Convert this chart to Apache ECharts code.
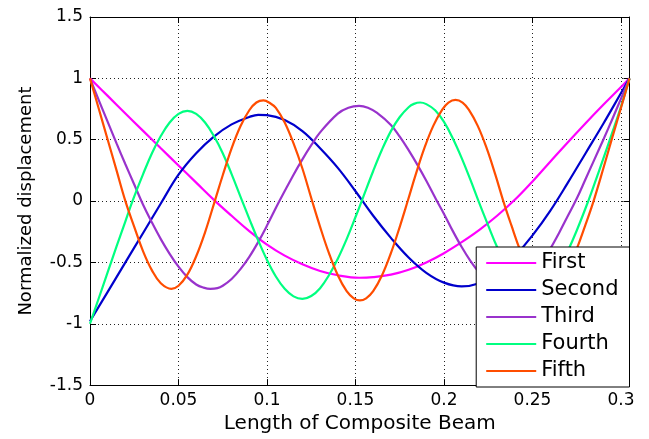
<!DOCTYPE html>
<html>
<head>
<meta charset="utf-8">
<script src="https://cdn.jsdelivr.net/npm/echarts@6/dist/echarts.min.js"></script>
<style>
  html, body { margin: 0; padding: 0; background: #ffffff; }
  #chart { width: 649px; height: 439px; }
</style>
</head>
<body>
<div id="chart"></div>
<script>
// Mode shapes of the composite beam, normalized displacement along its length (m)
const modeNames = ['First', 'Second', 'Third', 'Fourth', 'Fifth'];

const firstX = [0, 0.01, 0.02, 0.03, 0.04, 0.05, 0.06, 0.07, 0.08, 0.09, 0.10, 0.11, 0.12, 0.13, 0.14, 0.152,
  0.16, 0.17, 0.18, 0.19, 0.20, 0.21, 0.22, 0.23, 0.24, 0.25, 0.26, 0.27, 0.28, 0.29, 0.30, 0.3048];
const firstY = [1.0, 0.857, 0.714, 0.572, 0.43, 0.29, 0.15, 0.01, -0.12, -0.245, -0.355, -0.445, -0.515, -0.57, -0.605, -0.625,
  -0.62, -0.60, -0.56, -0.50, -0.425, -0.335, -0.235, -0.12, 0.01, 0.16, 0.32, 0.48, 0.635, 0.785, 0.93, 1.0];

const secondX = [0, 0.01, 0.02, 0.03, 0.04, 0.05, 0.06, 0.07, 0.08, 0.09, 0.095, 0.10, 0.11, 0.12, 0.13, 0.14, 0.15,
  0.16, 0.17, 0.18, 0.19, 0.20, 0.21, 0.22, 0.23, 0.24, 0.25, 0.26, 0.27, 0.28, 0.29, 0.30, 0.3048];
const secondY = [-0.98, -0.74, -0.50, -0.26, -0.02, 0.215, 0.39, 0.525, 0.625, 0.685, 0.703, 0.70, 0.66, 0.57, 0.43, 0.27, 0.08,
  -0.12, -0.30, -0.46, -0.585, -0.665, -0.695, -0.67, -0.59, -0.45, -0.28, -0.08, 0.15, 0.39, 0.63, 0.88, 1.0];

const thirdX = [0, 0.005, 0.01, 0.015, 0.02, 0.025, 0.03, 0.035, 0.04, 0.045, 0.05, 0.055, 0.06, 0.064, 0.068, 0.072,
  0.075, 0.08, 0.085, 0.09, 0.095, 0.10, 0.107, 0.115, 0.12, 0.125, 0.13, 0.14, 0.146, 0.152, 0.157, 0.162, 0.17,
  0.175, 0.18, 0.185, 0.19, 0.196, 0.20, 0.205, 0.21, 0.215, 0.22, 0.225, 0.23, 0.236, 0.241, 0.245, 0.25,
  0.255, 0.26, 0.265, 0.27, 0.275, 0.28, 0.285, 0.29, 0.295, 0.30, 0.3048];
const thirdY = [1.0, 0.82, 0.645, 0.47, 0.30, 0.135, -0.03, -0.175, -0.31, -0.43, -0.535, -0.62, -0.68, -0.705, -0.716, -0.71,
  -0.69, -0.635, -0.555, -0.455, -0.335, -0.20, 0.0, 0.215, 0.34, 0.455, 0.56, 0.713, 0.761, 0.776, 0.761, 0.72, 0.62,
  0.525, 0.415, 0.295, 0.165, 0.0, -0.105, -0.245, -0.375, -0.49, -0.585, -0.655, -0.70, -0.72, -0.70, -0.67, -0.60,
  -0.505, -0.39, -0.26, -0.12, 0.02, 0.18, 0.34, 0.50, 0.665, 0.835, 1.0];

const fourthX = [0, 0.005, 0.01, 0.015, 0.02, 0.024, 0.03, 0.035, 0.04, 0.045, 0.05, 0.055, 0.06, 0.065, 0.07, 0.075,
  0.08, 0.086, 0.09, 0.095, 0.10, 0.105, 0.11, 0.115, 0.12, 0.125, 0.13, 0.135, 0.14, 0.145, 0.15, 0.1535, 0.16,
  0.165, 0.17, 0.175, 0.18, 0.183, 0.1865, 0.19, 0.195, 0.20, 0.205, 0.21, 0.215, 0.2195, 0.225, 0.23, 0.235,
  0.24, 0.245, 0.2505, 0.255, 0.26, 0.265, 0.27, 0.275, 0.2815, 0.285, 0.29, 0.295, 0.30, 0.3048];
const fourthY = [-1.0, -0.79, -0.58, -0.37, -0.165, 0.0, 0.22, 0.39, 0.53, 0.64, 0.71, 0.735, 0.71, 0.64, 0.53, 0.39,
  0.22, 0.0, -0.145, -0.32, -0.48, -0.615, -0.715, -0.777, -0.797, -0.774, -0.71, -0.605, -0.47, -0.31, -0.13, 0.0, 0.245,
  0.42, 0.57, 0.685, 0.765, 0.792, 0.803, 0.79, 0.74, 0.645, 0.51, 0.35, 0.17, 0.0, -0.20, -0.375, -0.52,
  -0.635, -0.705, -0.735, -0.715, -0.65, -0.545, -0.405, -0.24, 0.0, 0.14, 0.345, 0.555, 0.77, 1.0];

const fifthX = [0, 0.005, 0.01, 0.015, 0.02, 0.025, 0.03, 0.035, 0.04, 0.046, 0.05, 0.055, 0.06, 0.065, 0.0705, 0.075,
  0.08, 0.085, 0.09, 0.094, 0.098, 0.102, 0.105, 0.11, 0.115, 0.12, 0.1255, 0.13, 0.135, 0.14, 0.145, 0.149, 0.1525,
  0.156, 0.16, 0.165, 0.17, 0.175, 0.1795, 0.184, 0.189, 0.194, 0.199, 0.2025, 0.2065, 0.2105, 0.214, 0.219, 0.224,
  0.229, 0.2335, 0.238, 0.243, 0.248, 0.253, 0.2555, 0.259, 0.2625, 0.265, 0.27, 0.275, 0.28, 0.2845, 0.29, 0.295,
  0.30, 0.3048];
const fifthY = [1.0, 0.75, 0.50, 0.25, 0.0, -0.21, -0.41, -0.565, -0.67, -0.715, -0.69, -0.60, -0.45, -0.255, 0.0, 0.21,
  0.43, 0.61, 0.74, 0.803, 0.82, 0.795, 0.76, 0.64, 0.47, 0.265, 0.0, -0.21, -0.425, -0.605, -0.735, -0.793, -0.81,
  -0.793, -0.735, -0.605, -0.425, -0.21, 0.0, 0.215, 0.435, 0.615, 0.745, 0.803, 0.825, 0.803, 0.745, 0.615, 0.435,
  0.215, 0.0, -0.195, -0.40, -0.56, -0.67, -0.705, -0.72, -0.705, -0.67, -0.555, -0.39, -0.19, 0.0, 0.265, 0.515,
  0.76, 1.0];

const xTicks = [0, 0.05, 0.1, 0.15, 0.2, 0.25, 0.3];
const yTicks = [-1.5, -1, -0.5, 0, 0.5, 1, 1.5];
const beamLength = 0.3048;

// Line colours for the five modes
const palette = ['#ff00ff', '#0000cc', '#9933cc', '#00ff80', '#ff4d00'];

const modeX = [firstX, secondX, thirdX, fourthX, fifthX];
const modeY = [firstY, secondY, thirdY, fourthY, fifthY];

const FONT = 'DejaVu Sans';

function xLabel(v) {
  const hit = xTicks.find(t => Math.abs(t - v) < 1e-9);
  return hit === undefined ? '' : String(hit);
}
function yLabel(v) {
  const hit = yTicks.find(t => Math.abs(t - v) < 1e-9);
  return hit === undefined ? '' : String(hit);
}

const frameAxis = {
  axisLine: { show: true, onZero: false, lineStyle: { color: '#000', width: 1 } },
  axisTick: { show: true, inside: true, length: 6, lineStyle: { color: '#000', width: 1 } }
};
const gridDots = { show: true, lineStyle: { type: [1, 3], color: '#222', width: 1 } };

const chart = echarts.init(document.getElementById('chart'), null, { renderer: 'canvas' });

chart.setOption({
  animation: false,
  backgroundColor: '#ffffff',
  grid: { left: 90, right: 19.5, top: 17, bottom: 52, containLabel: false },
  xAxis: [
    Object.assign({}, frameAxis, {
      type: 'value', position: 'bottom', min: 0, max: beamLength, interval: 0.05,
      axisLabel: { show: true, margin: 7, color: '#000', fontFamily: FONT, fontSize: 17, formatter: xLabel },
      splitLine: gridDots,
      name: 'Length of Composite Beam', nameLocation: 'middle', nameGap: 27,
      nameTextStyle: { color: '#000', fontFamily: FONT, fontSize: 20 }
    }),
    Object.assign({}, frameAxis, {
      type: 'value', position: 'top', min: 0, max: beamLength, interval: 0.05,
      axisLabel: { show: false }, splitLine: { show: false }
    })
  ],
  yAxis: [
    Object.assign({}, frameAxis, {
      type: 'value', position: 'left', min: -1.5, max: 1.5, interval: 0.5,
      axisLabel: { show: true, margin: 7, color: '#000', fontFamily: FONT, fontSize: 17, formatter: yLabel },
      splitLine: gridDots,
      name: 'Normalized displacement', nameLocation: 'middle', nameGap: 55,
      nameTextStyle: { color: '#000', fontFamily: FONT, fontSize: 18 }
    }),
    Object.assign({}, frameAxis, {
      type: 'value', position: 'right', min: -1.5, max: 1.5, interval: 0.5,
      axisLabel: { show: false }, splitLine: { show: false }
    })
  ],
  legend: {
    orient: 'vertical',
    right: 19.5,
    bottom: 52,
    backgroundColor: '#ffffff',
    borderColor: '#000',
    borderWidth: 1,
    borderRadius: 0,
    padding: [5, 11, 5, 10],
    icon: 'rect',
    itemWidth: 50,
    itemHeight: 2,
    itemGap: 5,
    itemTextGap: 6,
    textStyle: { color: '#000', fontFamily: FONT, fontSize: 21, lineHeight: 22 },
    data: modeNames
  },
  series: modeNames.map((name, i) => ({
    name: name,
    type: 'line',
    xAxisIndex: 0,
    yAxisIndex: 0,
    symbol: 'none',
    smooth: 0.4,
    color: palette[i],
    lineStyle: { color: palette[i], width: 2.2 },
    data: modeX[i].map((x, k) => [x, modeY[i][k]])
  }))
});
</script>
</body>
</html>
